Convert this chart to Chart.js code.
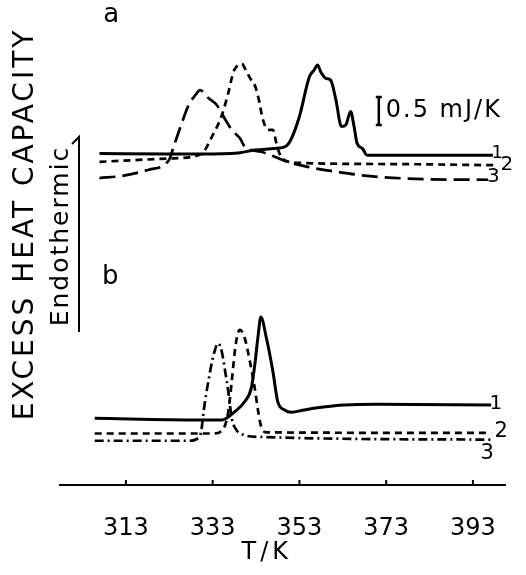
<!DOCTYPE html>
<html>
<head>
<meta charset="utf-8">
<title>Excess heat capacity</title>
<script src="https://cdn.jsdelivr.net/npm/chart.js@4.4.0/dist/chart.umd.min.js"></script>
<style>
  html, body { margin: 0; padding: 0; background: #fff; }
  #dscChart { display: block; }
</style>
</head>
<body>
<canvas id="dscChart" width="526" height="575"></canvas>
<script>
// temperature axis ticks (K)
const tempTicks = [313, 333, 353, 373, 393];

// panel a - temperature (K) and excess heat capacity (mJ/K, curves offset)
const aTemp1 = [306.9, 322.9, 330.4, 338.9, 342.7, 347.3, 349.9, 351.0, 353.0, 355.3, 356.4, 357.2, 357.9, 359.1, 360.2, 361.4, 362.7, 363.7, 364.8, 365.6, 366.3, 367.5, 368.6, 397.6];
const aCp1   = [5.92, 5.91, 5.91, 5.93, 5.98, 6.01, 6.05, 6.16, 6.58, 7.29, 7.41, 7.50, 7.38, 7.26, 7.23, 6.88, 6.40, 6.43, 6.67, 6.40, 6.10, 6.01, 5.89, 5.89];

const aTemp2 = [306.9, 322.9, 330.4, 332.7, 335.0, 336.6, 337.8, 338.5, 339.7, 340.8, 341.9, 342.7, 343.5, 344.6, 345.8, 346.9, 347.7, 348.4, 349.6, 353.4, 375.5, 397.9];
const aCp2   = [5.77, 5.83, 5.91, 6.20, 6.58, 7.00, 7.38, 7.47, 7.52, 7.38, 7.23, 7.14, 6.93, 6.52, 6.34, 6.34, 6.10, 5.92, 5.80, 5.75, 5.73, 5.71];

const aTemp3 = [306.9, 312.2, 318.3, 322.9, 324.0, 325.6, 327.5, 329.0, 330.1, 332.0, 333.9, 335.5, 337.4, 339.3, 340.4, 341.9, 344.2, 347.3, 350.3, 354.9, 361.0, 368.6, 382.3, 396.5];
const aCp3   = [5.48, 5.52, 5.63, 5.80, 6.04, 6.40, 6.79, 6.96, 7.05, 6.91, 6.79, 6.58, 6.34, 6.19, 6.04, 5.98, 5.95, 5.86, 5.77, 5.68, 5.60, 5.52, 5.46, 5.45];

// panel b
const bTemp1 = [305.8, 329.8, 335.1, 338.1, 340.4, 341.9, 342.7, 343.5, 344.1, 345.4, 346.9, 348.0, 349.6, 351.1, 354.1, 357.2, 363.3, 370.9, 397.2];
const bCp1   = [1.19, 1.16, 1.16, 1.31, 1.49, 1.73, 2.14, 2.68, 3.00, 2.62, 2.02, 1.49, 1.34, 1.30, 1.34, 1.38, 1.43, 1.44, 1.43];

const bTemp2 = [305.8, 333.2, 335.5, 336.6, 337.4, 338.1, 338.7, 339.3, 340.4, 341.6, 342.7, 343.5, 344.2, 345.4, 397.2];
const bCp2   = [0.92, 0.92, 1.01, 1.31, 1.85, 2.38, 2.68, 2.77, 2.62, 2.20, 1.73, 1.31, 1.04, 0.94, 0.93];

const bTemp3 = [305.8, 327.5, 329.8, 330.4, 330.9, 332.0, 333.2, 334.3, 335.1, 335.9, 336.6, 337.4, 338.5, 340.4, 343.5, 397.2];
const bCp3   = [0.79, 0.79, 0.85, 0.98, 1.31, 1.85, 2.32, 2.53, 2.38, 2.02, 1.67, 1.19, 0.98, 0.89, 0.86, 0.81];

// curve numbers and panel letters (temperature, heat capacity)
const curveTags = [
    { text: 'a', t: 309.6, y: 8.38, size: 26 },
    { text: '1', t: 398.6, y: 5.92, size: 18 },
    { text: '2', t: 400.8, y: 5.71, size: 20 },
    { text: '3', t: 397.7, y: 5.50, size: 20 },
    { text: 'b', t: 309.4, y: 3.71, size: 26 },
    { text: '1', t: 398.3, y: 1.45, size: 20 },
    { text: '2', t: 399.5, y: 0.95, size: 21 },
    { text: '3', t: 396.3, y: 0.56, size: 21 }
];

// 0.5 mJ/K scale bar
const scaleBarTemp = 371.3;
const scaleBarTop = 6.93;
const scaleBarSize = 0.5;

const FONT = '"DejaVu Sans", sans-serif';

function pts(temps, values) {
    return temps.map((t, i) => ({ x: t, y: values[i] }));
}

function curve(temps, values, dash) {
    return {
        data: pts(temps, values),
        borderColor: '#000',
        borderWidth: dash.length ? 2.7 : 3,
        borderDash: dash,
        pointRadius: 0,
        fill: false,
        cubicInterpolationMode: 'monotone'
    };
}

// text, ticks and the scale bar that chart.js does not draw itself
const extrasPlugin = {
    id: 'extras',
    afterDraw(chart) {
        const ctx = chart.ctx;
        const xs = chart.scales.x;
        const ys = chart.scales.y;
        const area = chart.chartArea;
        ctx.save();
        ctx.fillStyle = '#000';
        ctx.strokeStyle = '#000';

        // small ticks pointing up from the axis line
        ctx.lineWidth = 2;
        tempTicks.forEach(t => {
            const px = xs.getPixelForValue(t);
            ctx.beginPath();
            ctx.moveTo(px, area.bottom);
            ctx.lineTo(px, area.bottom - 5);
            ctx.stroke();
        });

        // axis title
        ctx.letterSpacing = '4px';
        ctx.font = '24px ' + FONT;
        ctx.textAlign = 'center';
        ctx.textBaseline = 'middle';
        ctx.fillText('T/K', xs.getPixelForValue(345) + 2, area.bottom + 68);

        // curve numbers, panel letters
        ctx.letterSpacing = '0px';
        curveTags.forEach(tag => {
            ctx.font = tag.size + 'px ' + FONT;
            ctx.fillText(tag.text, xs.getPixelForValue(tag.t), ys.getPixelForValue(tag.y));
        });

        // scale bar
        const bx = xs.getPixelForValue(scaleBarTemp);
        const by1 = ys.getPixelForValue(scaleBarTop);
        const by2 = ys.getPixelForValue(scaleBarTop - scaleBarSize);
        ctx.lineWidth = 2.5;
        ctx.beginPath();
        ctx.moveTo(bx, by1); ctx.lineTo(bx, by2);
        ctx.moveTo(bx - 3, by1); ctx.lineTo(bx + 3, by1);
        ctx.moveTo(bx - 3, by2); ctx.lineTo(bx + 3, by2);
        ctx.stroke();
        ctx.letterSpacing = '2px';
        ctx.font = '24px ' + FONT;
        ctx.textAlign = 'left';
        ctx.fillText('0.5 mJ/K', bx + 7, (by1 + by2) / 2);

        // y axis title, rotated
        ctx.letterSpacing = '3px';
        ctx.font = '28px ' + FONT;
        ctx.textAlign = 'center';
        ctx.textBaseline = 'alphabetic';
        ctx.save();
        ctx.translate(33, 224);
        ctx.rotate(-Math.PI / 2);
        ctx.fillText('EXCESS HEAT CAPACITY', 0, 0);
        ctx.restore();

        ctx.letterSpacing = '2px';
        ctx.font = '25px ' + FONT;
        ctx.save();
        ctx.translate(68, 236);
        ctx.rotate(-Math.PI / 2);
        ctx.fillText('Endothermic', 0, 0);
        ctx.restore();

        // endothermic arrow
        ctx.lineWidth = 2;
        ctx.beginPath();
        ctx.moveTo(79, 332);
        ctx.lineTo(79, 137);
        ctx.lineTo(72, 144);
        ctx.stroke();

        ctx.restore();
    }
};

const ctx = document.getElementById('dscChart');

const dscChart = new Chart(ctx, {
    type: 'line',
    data: {
        datasets: [
            curve(aTemp1, aCp1, []),
            curve(aTemp2, aCp2, [7, 5]),
            curve(aTemp3, aCp3, [16, 7]),
            curve(bTemp1, bCp1, []),
            curve(bTemp2, bCp2, [7, 5]),
            curve(bTemp3, bCp3, [9, 4, 2, 4])
        ]
    },
    options: {
        responsive: false,
        animation: false,
        devicePixelRatio: 1,
        layout: { padding: { left: 60, right: 16, top: 0, bottom: 0 } },
        plugins: {
            legend: { display: false },
            tooltip: { enabled: false }
        },
        scales: {
            x: {
                type: 'linear',
                min: 297.8,
                max: 400.6,
                grid: { display: false, drawTicks: false },
                border: { display: true, color: '#000', width: 2 },
                ticks: {
                    color: '#000',
                    font: { family: FONT, size: 24 },
                    padding: 29,
                    maxRotation: 0,
                    autoSkip: false
                },
                afterBuildTicks: axis => {
                    axis.ticks = tempTicks.map(v => ({ value: v }));
                },
                afterFit: axis => {
                    axis.height = 90;
                }
            },
            y: {
                type: 'linear',
                display: false,
                min: 0,
                max: 8.66
            }
        }
    },
    plugins: [extrasPlugin]
});
</script>
</body>
</html>
